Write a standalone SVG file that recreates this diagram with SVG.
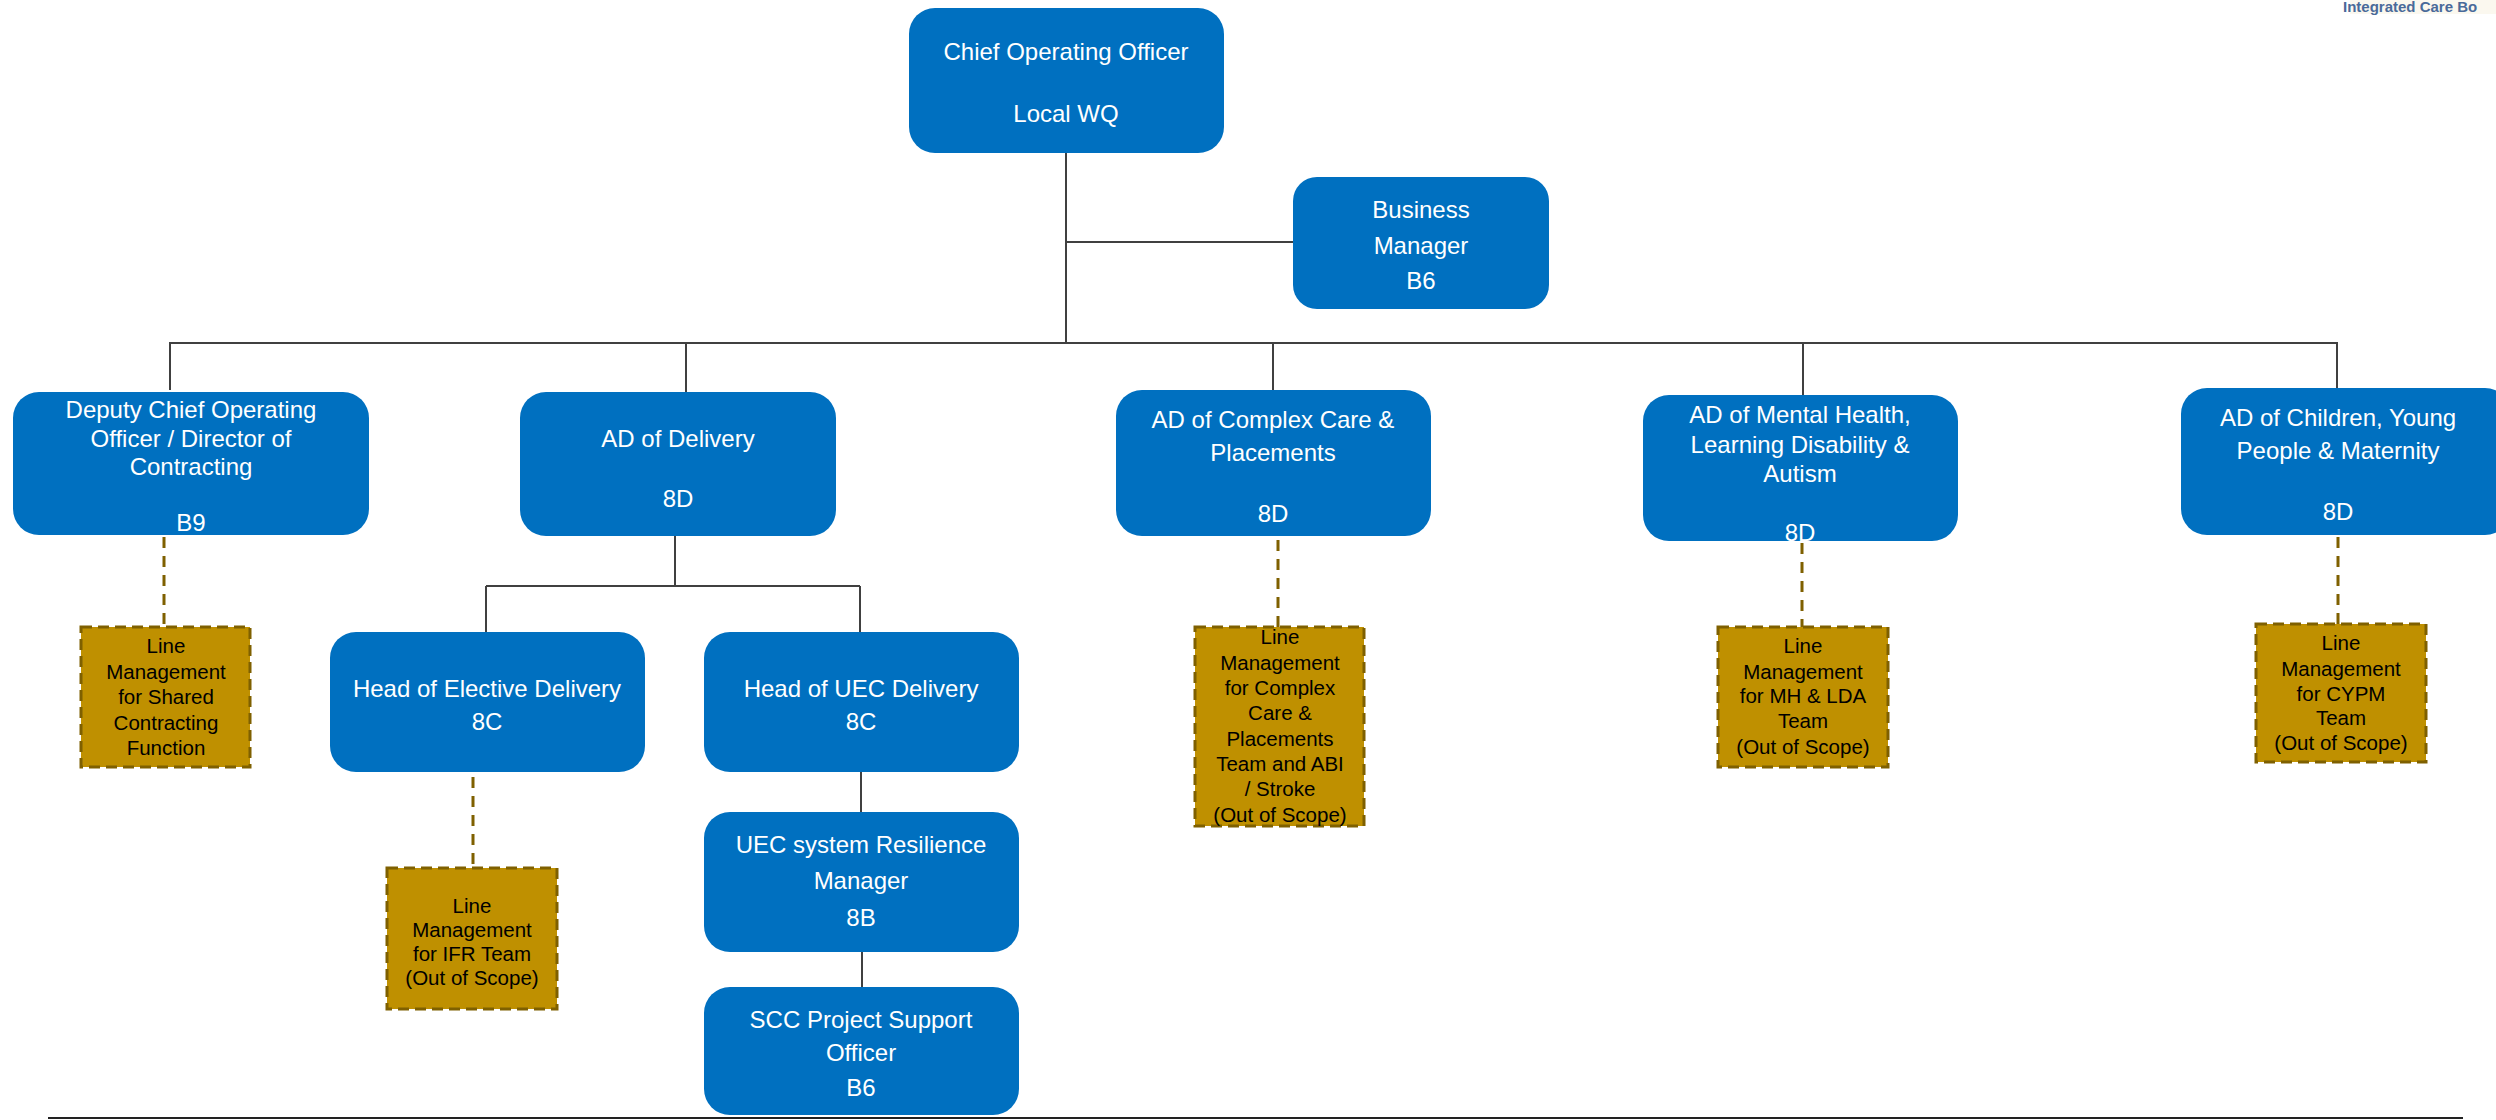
<svg xmlns="http://www.w3.org/2000/svg" width="2496" height="1120" viewBox="0 0 2496 1120">
<style>
.box{fill:#0070C0;}
.bt{fill:#ffffff;font-family:"Liberation Sans",Arial,sans-serif;font-size:24px;text-anchor:middle;}
.gold{fill:#BF9000;stroke:#7F6000;stroke-width:3;stroke-dasharray:11 6;}
.gt{fill:#000000;font-family:"Liberation Sans",Arial,sans-serif;font-size:20.5px;text-anchor:middle;}
.ln{stroke:#404040;stroke-width:2;fill:none;}
.dl{stroke:#7F6000;stroke-width:3;stroke-dasharray:11 8;fill:none;}
</style>
<rect x="0" y="0" width="2496" height="1120" fill="#ffffff"/>
<rect x="2350" y="0" width="146" height="14" fill="#fbf8ef"/>
<text x="2343" y="12" font-family="Liberation Sans,Arial,sans-serif" font-size="15" font-weight="bold" fill="#4a6a9a">Integrated Care Bo</text>

<g id="connectors">
<line class="ln" x1="1066" y1="153" x2="1066" y2="343"/>
<line class="ln" x1="1066" y1="242" x2="1293" y2="242"/>
<line class="ln" x1="170" y1="343" x2="2337" y2="343"/>
<line class="ln" x1="170" y1="342" x2="170" y2="390"/>
<line class="ln" x1="686" y1="342" x2="686" y2="392"/>
<line class="ln" x1="1273" y1="342" x2="1273" y2="390"/>
<line class="ln" x1="1803" y1="342" x2="1803" y2="395"/>
<line class="ln" x1="2337" y1="342" x2="2337" y2="388"/>
<line class="ln" x1="675" y1="536" x2="675" y2="586"/>
<line class="ln" x1="486" y1="586" x2="860" y2="586"/>
<line class="ln" x1="486" y1="586" x2="486" y2="632"/>
<line class="ln" x1="860" y1="586" x2="860" y2="632"/>
<line class="ln" x1="861" y1="772" x2="861" y2="812"/>
<line class="ln" x1="862" y1="952" x2="862" y2="987"/>
<line class="dl" x1="164" y1="537" x2="164" y2="627"/>
<line class="dl" x1="473" y1="777" x2="473" y2="868"/>
<line class="dl" x1="1278" y1="540" x2="1278" y2="627"/>
<line class="dl" x1="1802" y1="543" x2="1802" y2="627"/>
<line class="dl" x1="2338" y1="537" x2="2338" y2="624"/>
<line x1="48" y1="1118" x2="2463" y2="1118" stroke="#222222" stroke-width="2"/>
</g>

<g id="coo">
<rect class="box" x="909" y="8" width="315" height="145" rx="26"/>
<text class="bt" x="1066" y="60">Chief Operating Officer</text>
<text class="bt" x="1066" y="122">Local WQ</text>
</g>
<g id="business-manager">
<rect class="box" x="1293" y="177" width="256" height="132" rx="24"/>
<text class="bt" x="1421" y="218" font-size="25.5">Business</text>
<text class="bt" x="1421" y="254" font-size="25.5">Manager</text>
<text class="bt" x="1421" y="289" font-size="25.5">B6</text>
</g>
<g id="deputy-coo">
<rect class="box" x="13" y="392" width="356" height="143" rx="26"/>
<text class="bt" x="191" y="418">Deputy Chief Operating</text>
<text class="bt" x="191" y="447">Officer / Director of</text>
<text class="bt" x="191" y="475">Contracting</text>
<text class="bt" x="191" y="531">B9</text>
</g>
<g id="ad-delivery">
<rect class="box" x="520" y="392" width="316" height="144" rx="26"/>
<text class="bt" x="678" y="447">AD of Delivery</text>
<text class="bt" x="678" y="507">8D</text>
</g>
<g id="ad-complex-care">
<rect class="box" x="1116" y="390" width="315" height="146" rx="26"/>
<text class="bt" x="1273" y="428">AD of Complex Care &amp;</text>
<text class="bt" x="1273" y="461">Placements</text>
<text class="bt" x="1273" y="522">8D</text>
</g>
<g id="ad-mental-health">
<rect class="box" x="1643" y="395" width="315" height="146" rx="26"/>
<text class="bt" x="1800" y="423">AD of Mental Health,</text>
<text class="bt" x="1800" y="453">Learning Disability &amp;</text>
<text class="bt" x="1800" y="482">Autism</text>
<text class="bt" x="1800" y="541">8D</text>
</g>
<g id="ad-children">
<rect class="box" x="2181" y="388" width="330" height="147" rx="26"/>
<text class="bt" x="2338" y="426" font-size="25.5">AD of Children, Young</text>
<text class="bt" x="2338" y="459" font-size="25.5">People &amp; Maternity</text>
<text class="bt" x="2338" y="520" font-size="25.5">8D</text>
</g>
<g id="head-elective">
<rect class="box" x="330" y="632" width="315" height="140" rx="26"/>
<text class="bt" x="487" y="697" font-size="24.5">Head of Elective Delivery</text>
<text class="bt" x="487" y="730" font-size="24.5">8C</text>
</g>
<g id="head-uec">
<rect class="box" x="704" y="632" width="315" height="140" rx="26"/>
<text class="bt" x="861" y="697" font-size="24.5">Head of UEC Delivery</text>
<text class="bt" x="861" y="730" font-size="24.5">8C</text>
</g>
<g id="uec-resilience">
<rect class="box" x="704" y="812" width="315" height="140" rx="26"/>
<text class="bt" x="861" y="853" font-size="24.5">UEC system Resilience</text>
<text class="bt" x="861" y="889" font-size="24.5">Manager</text>
<text class="bt" x="861" y="926" font-size="24.5">8B</text>
</g>
<g id="scc-support">
<rect class="box" x="704" y="987" width="315" height="128" rx="26"/>
<text class="bt" x="861" y="1028" font-size="24.5">SCC Project Support</text>
<text class="bt" x="861" y="1061" font-size="24.5">Officer</text>
<text class="bt" x="861" y="1096" font-size="24.5">B6</text>
</g>

<g id="lm-contracting">
<rect class="gold" x="81" y="627" width="169" height="140"/>
<text class="gt" x="166" y="653">Line</text>
<text class="gt" x="166" y="679">Management</text>
<text class="gt" x="166" y="704">for Shared</text>
<text class="gt" x="166" y="730">Contracting</text>
<text class="gt" x="166" y="755">Function</text>
</g>
<g id="lm-ifr">
<rect class="gold" x="387" y="868" width="170" height="141"/>
<text class="gt" x="472" y="913">Line</text>
<text class="gt" x="472" y="937">Management</text>
<text class="gt" x="472" y="961">for IFR Team</text>
<text class="gt" x="472" y="985">(Out of Scope)</text>
</g>
<g id="lm-complex-care">
<rect class="gold" x="1195" y="627" width="169" height="199"/>
<text class="gt" x="1280" y="644">Line</text>
<text class="gt" x="1280" y="670">Management</text>
<text class="gt" x="1280" y="695">for Complex</text>
<text class="gt" x="1280" y="720">Care &amp;</text>
<text class="gt" x="1280" y="746">Placements</text>
<text class="gt" x="1280" y="771">Team and ABI</text>
<text class="gt" x="1280" y="796">/ Stroke</text>
<text class="gt" x="1280" y="822">(Out of Scope)</text>
</g>
<g id="lm-mh-lda">
<rect class="gold" x="1718" y="627" width="170" height="140"/>
<text class="gt" x="1803" y="653">Line</text>
<text class="gt" x="1803" y="679">Management</text>
<text class="gt" x="1803" y="703">for MH &amp; LDA</text>
<text class="gt" x="1803" y="728">Team</text>
<text class="gt" x="1803" y="754">(Out of Scope)</text>
</g>
<g id="lm-cypm">
<rect class="gold" x="2256" y="624" width="170" height="138"/>
<text class="gt" x="2341" y="650">Line</text>
<text class="gt" x="2341" y="676">Management</text>
<text class="gt" x="2341" y="701">for CYPM</text>
<text class="gt" x="2341" y="725">Team</text>
<text class="gt" x="2341" y="750">(Out of Scope)</text>
</g>
</svg>
